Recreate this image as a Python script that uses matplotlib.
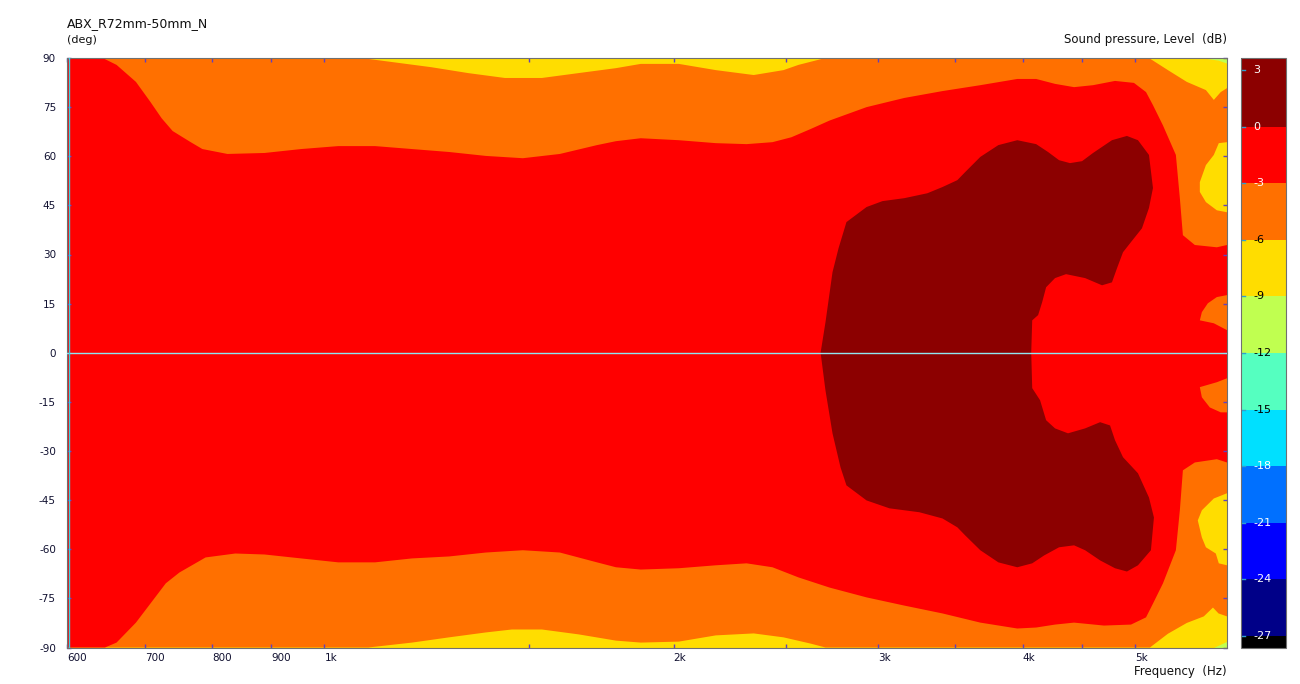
import matplotlib
matplotlib.use('Agg')
import matplotlib.pyplot as plt
import matplotlib.transforms as mtransforms
from matplotlib.colors import ListedColormap, BoundaryNorm
from matplotlib.cm import ScalarMappable

plt.rcParams['font.family'] = ['DejaVu Sans']

# polar map contours: frequency (Hz), angle (deg)
# -3 dB contour (red region), upper and lower edge
red_top_f = [600, 644, 662, 688, 708, 724, 740, 767, 785, 825, 888, 955, 1028, 1106, 1190, 1281,
             1378, 1483, 1596, 1718, 1784, 1874, 2021, 2175, 2312, 2434, 2527, 2625, 2726, 2934,
             3162, 3411, 3677, 3957, 4108, 4265, 4429, 4599, 4804, 4988, 5109, 5180, 5284, 5421,
             5464, 5497, 5629, 5880, 6000]
red_top_a = [90, 90, 87.9, 82.7, 76.6, 71.6, 67.7, 64.3, 62.2, 60.7, 61.0, 62.2, 63.1, 63.1, 62.2, 61.3,
             60.1, 59.4, 60.7, 63.4, 64.6, 65.5, 64.9, 64.0, 63.7, 64.3, 65.8, 68.3, 70.9, 75.0,
             77.8, 79.9, 81.7, 83.6, 83.6, 82.1, 81.1, 81.7, 83.0, 82.4, 79.6, 75.6, 69.4, 60.4,
             47.2, 35.9, 32.9, 32.2, 32.9]
red_bot_f = [600, 647, 662, 688, 708, 730, 750, 790, 838, 888, 955, 1028, 1106, 1190, 1281, 1378,
             1483, 1596, 1718, 1784, 1874, 2021, 2175, 2312, 2434, 2563, 2726, 2934, 3162, 3411,
             3677, 3957, 4108, 4265, 4429, 4700, 4959, 5109, 5180, 5284, 5421, 5464, 5497, 5629,
             5880, 6000]
red_bot_a = [-90, -90, -88.5, -82.4, -76.6, -70.4, -67.1, -62.5, -61.3, -61.6, -62.8, -64.0, -64.0, -62.8,
             -62.2, -61.0, -60.3, -61.0, -64.0, -65.5, -66.2, -65.8, -64.9, -64.3, -65.5, -68.6, -71.7,
             -74.7, -77.2, -79.6, -82.4, -84.2, -83.9, -83.0, -82.4, -83.3, -83.0, -80.8, -76.6, -70.4,
             -60.3, -48.1, -35.9, -33.5, -32.5, -33.5]

# -6 dB contour (orange region)
org_top_f = [600, 1076, 1236, 1330, 1431, 1540, 1657, 1784, 1874, 2021, 2175, 2345, 2488, 2563, 2704,
             5139, 5336, 5540, 5754, 5845, 5926, 6000]
org_top_a = [90, 90, 87.2, 85.4, 83.9, 83.9, 85.4, 86.9, 88.2, 88.2, 86.3, 84.8, 86.3, 87.9, 90,
             90, 86.3, 82.7, 80.2, 77.2, 79.6, 80.8]
org_bot_f = [600, 1091, 1190, 1281, 1378, 1451, 1540, 1657, 1784, 1874, 2021, 2175, 2345, 2488, 2625,
             2704, 5149, 5336, 5540, 5730, 5835, 5900, 6000]
org_bot_a = [-90, -90, -88.5, -86.9, -85.4, -84.5, -84.5, -86.0, -87.9, -88.5, -88.2, -86.3, -85.7, -86.9,
             -88.8, -90, -90, -85.8, -82.5, -80.5, -77.8, -79.6, -80.5]

# small islands at the high end
yel_isl_top_f = [6000, 5903, 5845, 5754, 5685, 5685, 5754, 5880, 6000]
yel_isl_top_a = [64.3, 64.0, 60.4, 57.3, 52.1, 49.1, 46.0, 43.5, 42.9]
yel_isl_bot_f = [6000, 5845, 5708, 5662, 5708, 5754, 5868, 5903, 6000]
yel_isl_bot_a = [-42.9, -44.5, -48.1, -51.2, -56.4, -59.4, -61.3, -64.3, -64.9]
org_isl_top_f = [6000, 5880, 5776, 5708, 5685, 5845, 6000]
org_isl_top_a = [17.6, 17.0, 15.1, 12.4, 9.9, 9.0, 6.9]
org_isl_bot_f = [6000, 5880, 5685, 5708, 5799, 5926, 6000]
org_isl_bot_a = [-7.8, -9.0, -10.5, -13.6, -16.7, -18.2, -18.2]
grn_top_f = [5685, 6000, 6000, 5900]
grn_top_a = [90, 90, 88.3, 89.2]
grn_bot_f = [5850, 6000, 6000]
grn_bot_a = [-90, -90, -88.3]

# 0 dB contour (dark red), upper lobe then lower lobe
dark_top_f = [2678, 2704, 2742, 2775, 2819, 2934, 3028, 3162, 3310, 3411, 3513, 3569, 3677, 3811,
              3957, 4108, 4206, 4299, 4393, 4500, 4599, 4775, 4919, 5028, 5139, 5180, 5139, 5068,
              4959, 4881, 4823, 4775, 4682, 4527, 4359, 4265, 4190, 4157, 4124, 4076, 4068]
dark_top_a = [0, 9.3, 24.6, 31.9, 39.9, 44.5, 46.3, 47.2, 48.7, 50.6, 52.7, 55.2, 59.8, 63.4,
              64.9, 63.7, 61.3, 58.8, 57.9, 58.5, 61.0, 64.9, 66.2, 64.9, 60.4, 50.3, 44.2, 38.0,
              33.8, 30.7, 25.8, 21.5, 20.6, 22.8, 24.0, 22.8, 20.0, 15.4, 11.5, 9.9, 0]
dark_bot_f = [4076, 4140, 4190, 4265, 4376, 4527, 4664, 4757, 4804, 4881, 5028, 5139, 5190, 5159,
              5028, 4919, 4804, 4664, 4527, 4429, 4299, 4173, 4076, 3957, 3811, 3677, 3569, 3513,
              3411, 3258, 3070, 2934, 2819, 2786, 2742, 2704]
dark_bot_a = [-10.8, -14.5, -20.6, -23.1, -24.6, -23.1, -21.2, -22.2, -26.7, -31.9, -36.8, -44.2, -50.3, -60.3,
              -64.9, -66.8, -65.8, -63.4, -60.3, -58.8, -59.4, -61.9, -64.3, -65.5, -64.0, -60.3, -55.8, -53.3,
              -50.6, -48.7, -47.5, -45.1, -40.5, -35.0, -24.6, -11.5]

# colour scale
levels = [-27, -24, -21, -18, -15, -12, -9, -6, -3, 0, 3]
level_text = ['white', 'white', 'white', 'white', 'black', 'black', 'black', 'black', 'white', 'white', 'white']
band_colors = ['#000000', '#000088', '#0000FF', '#0070FF', '#00E0FF', '#55FFC0',
               '#C0FF50', '#FFDD00', '#FF7000', '#FF0000', '#8C0000']
x_ticks = [600, 700, 800, 900, 1000, 1500, 2000, 2500, 3000, 3500, 4000, 4500, 5000]
x_labels = ['600', '700', '800', '900', '1k', '', '2k', '', '3k', '', '4k', '', '5k']
y_ticks = list(range(-90, 91, 15))

DARK, RED, ORANGE, YELLOW, GREEN = band_colors[10], band_colors[9], band_colors[8], band_colors[7], band_colors[6]

fig = plt.figure(figsize=(13, 6.84), dpi=100)
ax = fig.add_axes([67 / 1300, 1 - 647.5 / 684, 1160 / 1300, 589.5 / 684])
ax.set_facecolor(YELLOW)
ax.set_xscale('log')
ax.set_xlim(600, 6000)
ax.set_ylim(-90, 90)

ax.fill(grn_top_f, grn_top_a, color=GREEN, lw=0)
ax.fill(grn_bot_f, grn_bot_a, color=GREEN, lw=0)
ax.fill(org_top_f + org_bot_f[::-1], org_top_a + org_bot_a[::-1], color=ORANGE, lw=0)
ax.fill(yel_isl_top_f, yel_isl_top_a, color=YELLOW, lw=0)
ax.fill(yel_isl_bot_f, yel_isl_bot_a, color=YELLOW, lw=0)
ax.fill(red_top_f + red_bot_f[::-1], red_top_a + red_bot_a[::-1], color=RED, lw=0)
ax.fill(org_isl_top_f, org_isl_top_a, color=ORANGE, lw=0)
ax.fill(org_isl_bot_f, org_isl_bot_a, color=ORANGE, lw=0)
ax.fill(dark_top_f + dark_bot_f, dark_top_a + dark_bot_a, color=DARK, lw=0)

ax.axhline(0, color='#8FE6F0', lw=1, zorder=5)
ax.axvline(602, color='#40D0E0', lw=1, zorder=5)

ax.xaxis.set_minor_locator(matplotlib.ticker.NullLocator())
ax.set_xticks(x_ticks)
ax.set_xticklabels(x_labels)
for lab in ax.get_xticklabels():
    lab.set_ha('left')
ax.set_yticks(y_ticks)
ax.set_yticklabels([str(v) for v in y_ticks])
ax.tick_params(axis='both', direction='in', length=3, color='#6040C0', width=1,
               labelsize=7.5, labelcolor='#101030', top=True, right=True)
ax.tick_params(axis='x', pad=4)
ax.tick_params(axis='y', pad=8)
for sp in ax.spines.values():
    sp.set_color('#707070')

fig.text(67 / 1300, 1 - 24 / 684, 'ABX_R72mm-50mm_N', fontsize=9, va='center', color='#101010')
fig.text(67 / 1300, 1 - 40 / 684, '(deg)', fontsize=8, va='center', color='#101010')
fig.text(1227 / 1300, 1 - 40 / 684, 'Sound pressure, Level  (dB)', fontsize=8.5, ha='right',
         va='center', color='#101010')
fig.text(1227 / 1300, 1 - 672 / 684, 'Frequency  (Hz)', fontsize=8.5, ha='right', va='center',
         color='#101010')

# colour bar with the level labels drawn inside
cax = fig.add_axes([1241 / 1300, 1 - 648 / 684, 45 / 1300, 590 / 684])
bounds = [-27.635] + levels[:-1] + [3.635]
sm = ScalarMappable(norm=BoundaryNorm(bounds, len(band_colors)), cmap=ListedColormap(band_colors))
cb = fig.colorbar(sm, cax=cax, spacing='proportional', ticks=[])
cb.outline.set_edgecolor('#707070')
cax.minorticks_off()
cax.tick_params(which='both', length=0, labelright=False)
trans = mtransforms.blended_transform_factory(cax.transAxes, cax.transData)
for lvl, tc in zip(levels, level_text):
    cax.plot([0, 0.09], [lvl, lvl], color='#30A0D0', lw=1, transform=trans)
    cax.text(0.27, lvl, str(lvl), color=tc, fontsize=8, va='center', ha='left', transform=trans)

fig.savefig('out.png', dpi=100)
